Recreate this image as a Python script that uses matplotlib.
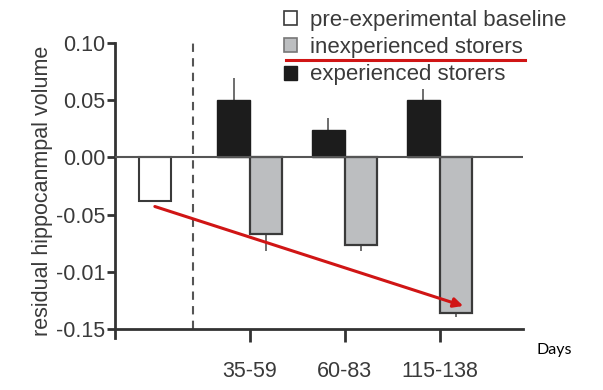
import matplotlib
matplotlib.use("Agg")
import matplotlib.pyplot as plt
from matplotlib.patches import Patch
from matplotlib.lines import Line2D

plt.rcParams['font.family'] = ['Liberation Sans', 'DejaVu Sans']

# data
groups = ['35-59', '60-83', '115-138']
baseline_val = -0.038
experienced = [0.050, 0.024, 0.050]
experienced_err = [0.019, 0.010, 0.010]
inexperienced = [-0.067, -0.077, -0.136]
inexperienced_err = [0.015, 0.005, 0.004]
ytick_vals = [0.10, 0.05, 0.00, -0.05, -0.10, -0.15]
ytick_labels = ['0.10', '0.05', '0.00', '-0.05', '-0.01', '-0.15']
legend_labels = ['pre-experimental baseline', 'inexperienced storers', 'experienced storers']
ylabel = 'residual hippocanmpal volume'
# arrow (start -> end) in data units
arrow_start = (0.0, -0.043)
arrow_end = (3.25, -0.130)

txt = '#3a3a3a'
ax_col = '#333333'
gray = '#bcbec0'
black = '#1c1c1c'
edge = '#3a3a3a'
red = '#d01515'

fig = plt.figure(figsize=(6.03, 3.90), dpi=100)
ax = fig.add_axes([115/603, 1-338/390, (523-115)/603, (338-43)/390])

w = 0.34
xs = [1, 2, 3]
ax.bar(0, baseline_val, width=w, color='white', edgecolor=edge, linewidth=1.5, zorder=3)
ax.bar([x - w/2 for x in xs], experienced, width=w, color=black, edgecolor=black,
       linewidth=1.0, zorder=3)
ax.bar([x + w/2 for x in xs], inexperienced, width=w, color=gray, edgecolor=edge,
       linewidth=1.6, zorder=3)
ax.errorbar([x - w/2 for x in xs], experienced, yerr=[[0]*3, experienced_err],
            fmt='none', ecolor='#555555', elinewidth=1.2, capsize=0, zorder=2)
ax.errorbar([x + w/2 for x in xs], inexperienced, yerr=[inexperienced_err, [0]*3],
            fmt='none', ecolor='#555555', elinewidth=1.2, capsize=0, zorder=2)

ax.axhline(0, color='#555555', lw=1.5, zorder=4)
ax.plot([0.4, 0.4], [-0.15, 0.10], color='#555555', lw=1.5, ls=(0, (4, 3)), zorder=1)

ax.annotate('', xy=arrow_end, xytext=arrow_start,
            arrowprops=dict(arrowstyle='-|>', color=red, lw=2.2,
                            mutation_scale=14, shrinkA=0, shrinkB=0), zorder=6)

ax.set_xlim(-0.42, 3.88)
ax.set_ylim(-0.158, 0.10)
ax.set_xticks(xs)
ax.set_xticklabels(groups)
ax.set_yticks(ytick_vals)
ax.set_yticklabels(ytick_labels)
ax.set_ylabel(ylabel, fontsize=15.5, color=txt, labelpad=2)
for s in ['top', 'right']:
    ax.spines[s].set_visible(False)
ax.spines['bottom'].set_position(('data', -0.15))
for s in ['left', 'bottom']:
    ax.spines[s].set_color(ax_col)
    ax.spines[s].set_linewidth(2)
ax.tick_params(axis='both', colors=ax_col, width=2, labelsize=15.5, labelcolor=txt)
ax.tick_params(axis='y', length=6, pad=1)
ax.tick_params(axis='x', length=9, pad=14)

handles = [Patch(facecolor='white', edgecolor=edge, linewidth=1.2),
           Patch(facecolor=gray, edgecolor='#777777', linewidth=1.2),
           Patch(facecolor=black, edgecolor=black)]
fig.legend(handles, legend_labels, loc='upper left', bbox_to_anchor=(284/603, 1-10/390),
           frameon=False, fontsize=16, handlelength=0.6, handleheight=0.6,
           handletextpad=0.55, labelspacing=0.28, borderpad=0, borderaxespad=0,
           labelcolor=txt)
fig.add_artist(Line2D([286/603, 525/603], [1-60/390, 1-60/390], color=red, lw=2.2,
                      transform=fig.transFigure))

fig.text(537/603, 1-350/390, 'Days', fontsize=11.5, family=['Lato', 'DejaVu Sans'],
         color='black', va='center', ha='left')

fig.savefig('out.png', dpi=100)
